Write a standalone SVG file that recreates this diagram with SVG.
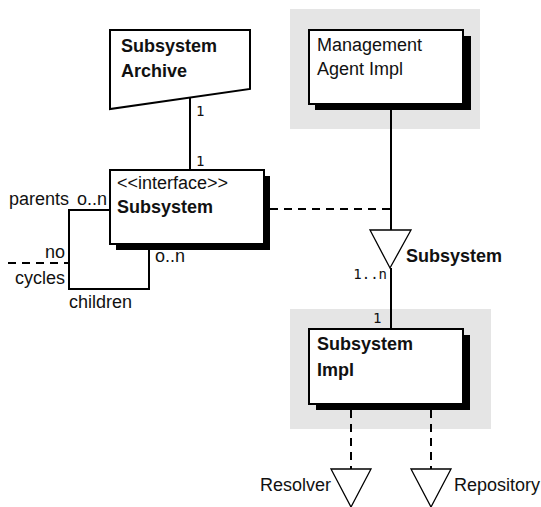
<svg xmlns="http://www.w3.org/2000/svg" width="541" height="507" viewBox="0 0 541 507">
<style>
text{font-family:"Liberation Sans",Arial,sans-serif;font-size:18px;fill:#111}
.b{font-weight:bold}
.m{font-family:"DejaVu Sans Mono","Liberation Mono",monospace;font-size:14px}
.box{fill:#fff;stroke:#000;stroke-width:2}
.sh{fill:#000}
.bg{fill:#e5e5e5}
.ln{fill:none;stroke:#000;stroke-width:2}
.dl{fill:none;stroke:#000;stroke-width:2;stroke-dasharray:8,6}
.tri{fill:#fff;stroke:#000;stroke-width:1.3}
</style>
<g id="archive">
<polygon class="box" points="110,30 250,30 250,89 110,109"/>
<text class="b" x="121" y="52">Subsystem</text>
<text class="b" x="121" y="77">Archive</text>
</g>
<g id="mgmt">
<rect class="bg" x="290" y="9" width="190" height="120"/>
<rect class="sh" x="315" y="36" width="156" height="74"/>
<rect class="box" x="309" y="30" width="154" height="74"/>
<text x="317" y="51">Management</text>
<text x="317" y="75">Agent Impl</text>
</g>
<g id="subsystem">
<rect class="sh" x="116" y="176" width="154" height="74"/>
<rect class="box" x="110" y="170" width="154" height="74"/>
<text x="117" y="189">&lt;&lt;interface&gt;&gt;</text>
<text class="b" x="117" y="213">Subsystem</text>
</g>
<g id="impl">
<rect class="bg" x="290" y="309" width="201" height="120"/>
<rect class="sh" x="316" y="335" width="154" height="75"/>
<rect class="box" x="309" y="329" width="154" height="75"/>
<text class="b" x="317" y="350">Subsystem</text>
<text class="b" x="317" y="376">Impl</text>
</g>
<g id="connectors">
<line class="ln" x1="190" y1="98" x2="190" y2="170"/>
<text class="m" x="196" y="116">1</text>
<text class="m" x="196" y="166">1</text>
<polyline class="ln" points="110,210 69,210 69,289 149,289 149,250"/>
<text x="9" y="205">parents</text>
<text x="77" y="205">o..n</text>
<text x="65" y="258" text-anchor="end">no</text>
<line class="dl" x1="8" y1="263" x2="69" y2="263"/>
<text x="65" y="284" text-anchor="end">cycles</text>
<text x="155" y="262">o..n</text>
<text x="69" y="308">children</text>
<line class="dl" x1="270" y1="209" x2="390" y2="209"/>
<line class="ln" x1="391" y1="110" x2="391" y2="230"/>
<line class="ln" x1="391" y1="268" x2="391" y2="329"/>
<polygon class="tri" points="370,230 411,230 390,268"/>
<text class="b" x="406" y="262">Subsystem</text>
<text class="m" x="387" y="279" text-anchor="end">1..n</text>
<text class="m" x="373" y="323">1</text>
<line class="dl" x1="351" y1="410" x2="351" y2="469"/>
<line class="dl" x1="431" y1="410" x2="431" y2="469"/>
<polygon class="tri" points="331,469 371,469 351,507"/>
<polygon class="tri" points="411,469 451,469 431,507"/>
<text x="331" y="491" text-anchor="end">Resolver</text>
<text x="454" y="491">Repository</text>
</g>
</svg>
